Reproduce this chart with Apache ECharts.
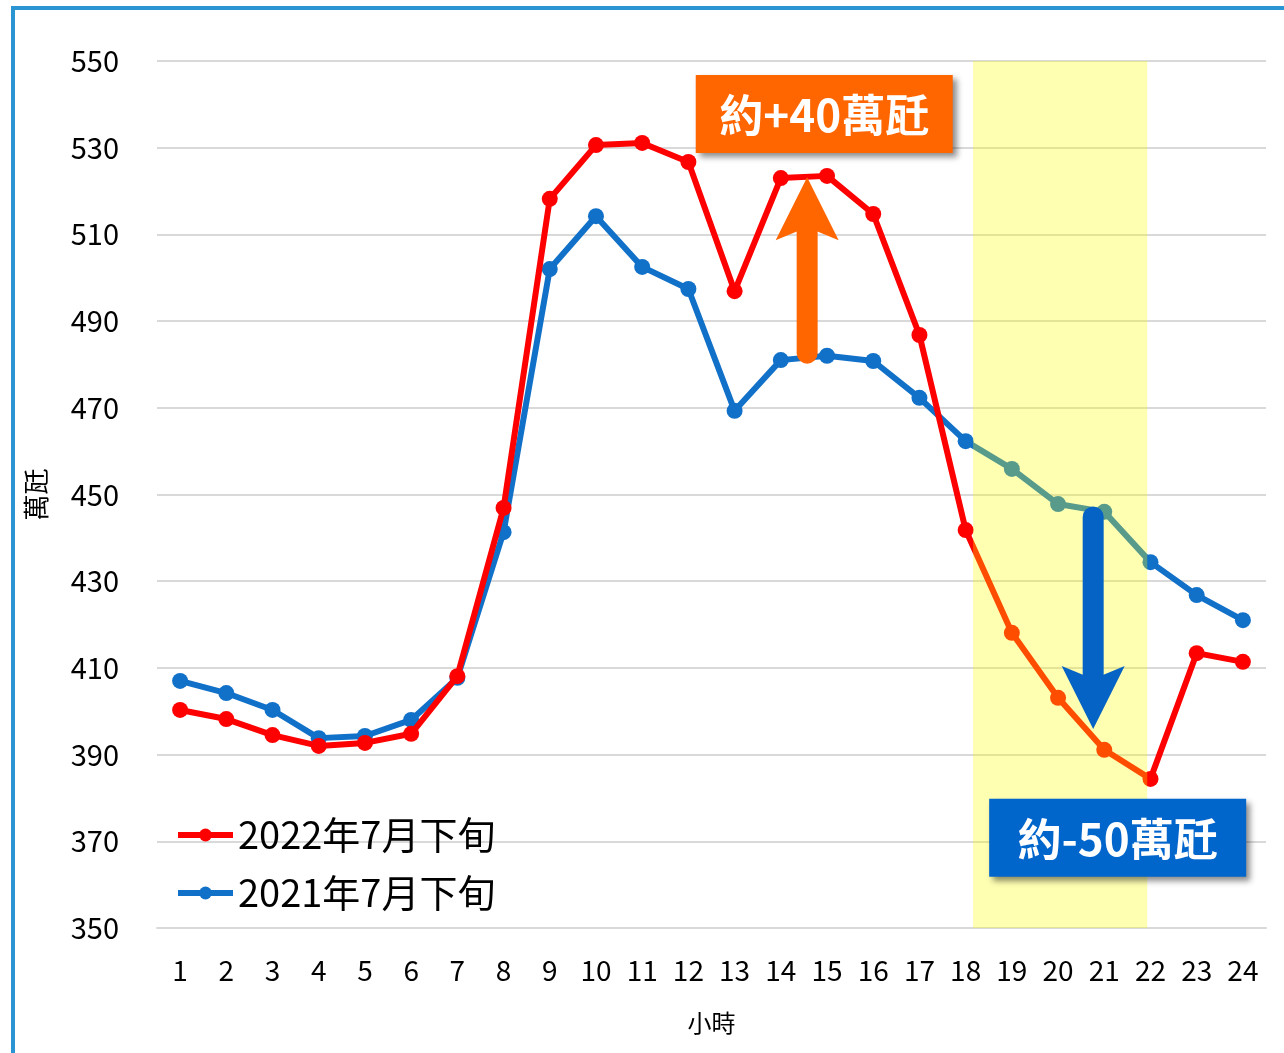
<!DOCTYPE html>
<html><head><meta charset="utf-8">
<script src="https://cdn.jsdelivr.net/npm/echarts@6/dist/echarts.min.js"></script>
<style>html,body{margin:0;padding:0;background:#fff}#c{width:1284px;height:1053px}</style>
</head><body><div id="c"></div>
<script>
const hours = ['1','2','3','4','5','6','7','8','9','10','11','12','13','14','15','16','17','18','19','20','21','22','23','24'];
const load2022 = [400.3,398.2,394.5,392.0,392.7,394.8,408.1,446.9,518.2,530.6,531.1,526.7,496.9,523.0,523.5,514.7,486.8,441.8,418.1,403.1,391.1,384.4,413.4,411.4];
const load2021 = [407.0,404.2,400.3,393.8,394.3,398.0,407.7,441.3,502.0,514.2,502.5,497.4,469.3,481.0,482.0,480.8,472.3,462.3,455.9,447.8,446.0,434.4,426.8,421.0];
const yTicks = [350,370,390,410,430,450,470,490,510,530,550];
const seriesNames = ['2022年7月下旬','2021年7月下旬'];
const highlightRange = [18.16, 21.93];
const upArrow = {x:14.57, from:482.6, to:523.2};
const downArrow = {x:20.76, from:444.8, to:395.9};
const upBox = {x:14.94, y:537.8, text:'約+40萬瓩'};
const downBox = {x:21.29, y:370.8, text:'約-50萬瓩'};

const FONT = '"Noto Sans CJK TC","Noto Sans CJK SC","Noto Sans",sans-serif';
const RED = '#ff0000', BLUE = '#1170c8';
const chart = echarts.init(document.getElementById('c'));
const option = {
  animation:false,
  backgroundColor:'#fff',
  textStyle:{fontFamily:FONT},
  grid:{left:157,right:18,top:61,bottom:125,containLabel:false},
  legend:{
    data:seriesNames, orient:'vertical', left:175, top:815, padding:0,
    itemWidth:55, itemHeight:16, itemGap:18, itemTextGap:5,
    lineStyle:{width:6},
    textStyle:{fontFamily:FONT,fontSize:38,color:'#000',lineHeight:40}
  },
  xAxis:[{
    type:'category', data:hours, boundaryGap:true,
    name:'小時', nameLocation:'middle', nameGap:83,
    nameTextStyle:{fontFamily:FONT,fontSize:24,color:'#000'},
    axisLine:{lineStyle:{color:'#d9d9d9',width:2}},
    axisTick:{show:false},
    axisLabel:{fontFamily:FONT,fontSize:28,color:'#000',margin:28,interval:0}
  },{
    type:'value', min:0.5, max:24.5, show:false
  }],
  yAxis:{
    type:'value', min:350, max:550,
    name:'萬瓩', nameLocation:'middle', nameGap:108, nameRotate:90,
    nameTextStyle:{fontFamily:FONT,fontSize:26,color:'#000'},
    axisLine:{show:false}, axisTick:{show:false, customValues:yTicks},
    axisLabel:{fontFamily:FONT,fontSize:29,color:'#000',margin:38,customValues:yTicks},
    splitLine:{lineStyle:{color:'#d9d9d9',width:2}}
  },
  series:[{
    name:seriesNames[0], type:'line', data:load2022, z:3,
    symbol:'circle', symbolSize:16, itemStyle:{color:RED},
    lineStyle:{color:RED,width:6}
  },{
    name:seriesNames[1], type:'line', data:load2021, z:2,
    symbol:'circle', symbolSize:16, itemStyle:{color:BLUE},
    lineStyle:{color:BLUE,width:6}
  },{
    name:'highlight', type:'line', xAxisIndex:1, yAxisIndex:0,
    data:[[highlightRange[0],450]], symbol:'none', lineStyle:{opacity:0}, z:10, silent:true,
    markArea:{
      z:10, silent:true,
      itemStyle:{color:'rgba(255,255,0,0.3)'},
      data:[[{xAxis:highlightRange[0]},{xAxis:highlightRange[1]}]]
    }
  }]
};
chart.setOption(option);

const px = (x,y) => chart.convertToPixel({seriesIndex:2}, [x,y]);
function arrow(a, color, up){
  const b = px(a.x, a.from), t = px(a.x, a.to);
  const cx = t[0], tip = t[1];
  const dir = up ? 1 : -1;
  const headH = 63, halfW = 31.5, notch = 50;
  return [{
    type:'line', z:100, silent:true,
    shape:{x1:cx, y1:b[1], x2:cx, y2:tip + dir*(notch+3)},
    style:{stroke:color, lineWidth:21, lineCap:'round'}
  },{
    type:'polygon', z:101, silent:true,
    shape:{points:[[cx,tip],[cx+halfW,tip+dir*headH],[cx,tip+dir*notch],[cx-halfW,tip+dir*headH]]},
    style:{fill:color}
  }];
}
function box(bx, color){
  const c = px(bx.x, bx.y);
  return [{
    type:'rect', z:102, silent:true,
    shape:{x:c[0]-128.5, y:c[1]-39, width:257, height:78},
    style:{fill:color, shadowBlur:6, shadowOffsetX:4, shadowOffsetY:4, shadowColor:'rgba(0,0,0,0.45)'}
  },{
    type:'text', z:103, silent:true, x:c[0], y:c[1]+1,
    style:{text:bx.text, fill:'#fff', font:'bold 44px '+FONT, align:'center', verticalAlign:'middle'}
  }];
}
chart.setOption({graphic:{elements:[
  {type:'rect', z:120, silent:true, shape:{x:13,y:8,width:1400,height:1200}, style:{fill:'none',stroke:'#2b94d3',lineWidth:4}},
  ...arrow(upArrow,'#ff6600',true),
  ...arrow(downArrow,'#0563c6',false),
  ...box(upBox,'#ff6600'),
  ...box(downBox,'#0066cc')
]}});
</script></body></html>
